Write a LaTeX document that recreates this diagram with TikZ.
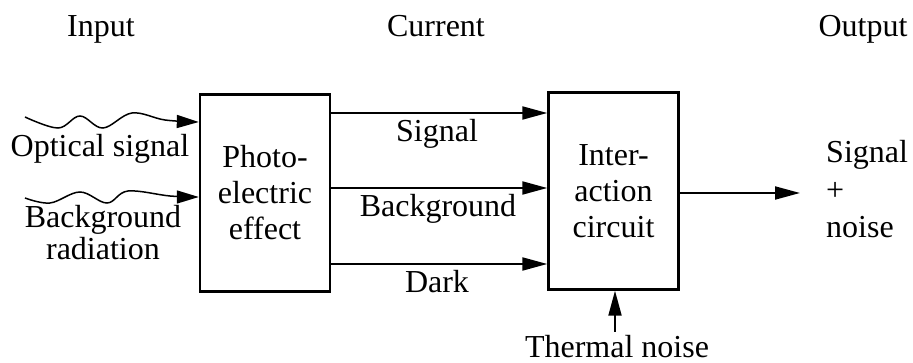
\documentclass[tikz,border=0pt]{standalone}
\usepackage{fontspec}
\setmainfont{Liberation Serif}
\usetikzlibrary{arrows.meta}
\begin{document}
\begin{tikzpicture}[x=1pt,y=-1pt,
  lbl/.style={font=\fontsize{32}{36}\selectfont, inner sep=0pt},
  blk/.style={draw, line width=2.4pt, minimum width=130pt, minimum height=197pt,
    align=center, font=\fontsize{32}{36}\selectfont, inner sep=0pt},
  arr/.style={line width=2pt, -{Triangle[length=25pt,width=13pt]}},
  wav/.style={line width=1.5pt, -{Triangle[length=22pt,width=13pt]}}]
\useasboundingbox (0,0) rectangle (913,363);

% headers
\node[lbl,anchor=base] (hin) at (101,37) {Input};
\node[lbl,anchor=base] (hcur) at (436,37) {Current};
\node[lbl,anchor=base] (hout) at (863,37) {Output};

% blocks
\node[blk] (photo) at (265,193) {Photo-\\electric\\effect};
\node[blk] (inter) at (613.5,191) {Inter-\\action\\circuit};

% input labels
\node[lbl,anchor=base] (opt) at (100,157) {Optical signal};
\node[lbl,anchor=base,align=center,font=\fontsize{32}{32}\selectfont] (bgr) at (103,260) {Background\\radiation};

% current labels
\node[lbl,anchor=base] (lsig) at (437,142) {Signal};
\node[lbl,anchor=base] (lbg) at (438,217) {Background};
\node[lbl,anchor=base] (ldark) at (437,293) {Dark};

% output labels
\node[lbl,anchor=base west,align=left,font=\fontsize{32}{37.5}\selectfont] (outt) at (826,238) {Signal\\+\\noise};
\node[lbl,anchor=base] (therm) at (617,357) {Thermal noise};

% wavy inputs
\coordinate (w1) at (25,117);
\draw[wav] plot[smooth,tension=0.6] coordinates {(w1) (58,128) (80,116) (103,128) (132,113) (165,120) (photo.west |- 0,122)};
\coordinate (w2) at (25,198);
\draw[wav] plot[smooth,tension=0.6] coordinates {(w2) (50,203) (80,192) (107,203) (128,191) (170,196) (photo.west |- 0,197)};

% current arrows
\coordinate (s1) at ([yshift=80pt]photo.east);
\coordinate (s2) at ([yshift=5pt]photo.east);
\coordinate (s3) at ([yshift=-71pt]photo.east);
\draw[arr] (s1) -- (s1 -| inter.west);
\draw[arr] (s2) -- (s2 -| inter.west);
\draw[arr] (s3) -- (s3 -| inter.west);

% output and thermal
\coordinate (oend) at (800,193);
\draw[arr] (inter.east |- oend) -- (oend);
\coordinate (tstart) at ([xshift=-2pt,yshift=3pt]therm.north);
\draw[arr] (tstart) -- (tstart |- inter.south);
\end{tikzpicture}
\end{document}
